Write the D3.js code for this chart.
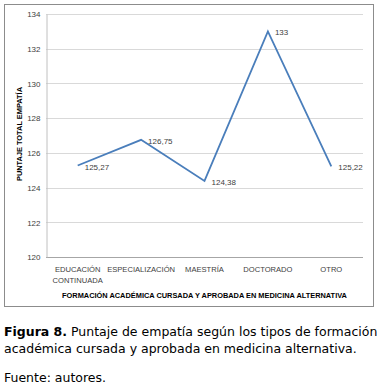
<!DOCTYPE html>
<html>
<head>
<meta charset="utf-8">
<script src="https://cdn.jsdelivr.net/npm/d3@7"></script>
<style>
  body { margin: 0; background: #fff; }
  #chart { position: absolute; left: 0; top: 0; }
  .caption { position: absolute; left: 4px; font-family: "DejaVu Sans", Verdana, sans-serif; font-size: 12.5px; color: #000; line-height: 17px; white-space: nowrap; }
  .tick text { font-family: "Liberation Sans", Arial, sans-serif; fill: #404040; }
</style>
</head>
<body>
<div id="chart"></div>
<div class="caption" style="top:323px"><b>Figura 8.</b> Puntaje de empatía según los tipos de formación<br>académica cursada y aprobada en medicina alternativa.</div>
<div class="caption" style="top:369px">Fuente: autores.</div>
<script>
var categories = [["EDUCACIÓN", "CONTINUADA"], ["ESPECIALIZACIÓN"], ["MAESTRÍA"], ["DOCTORADO"], ["OTRO"]];
var values = [125.27, 126.75, 124.38, 133, 125.22];
var valueLabels = ["125,27", "126,75", "124,38", "133", "125,22"];
var yTicks = [120, 122, 124, 126, 128, 130, 132, 134];

function init() {
    var w = 380;
    var h = 320;
    var left = 46, right = 363, top = 14, bottom = 257;

    var svg = d3.select("#chart")
        .append("svg")
        .attr("width", w)
        .attr("height", h);

    // outer frame
    svg.append("rect")
        .attr("x", 4.5).attr("y", 4.5)
        .attr("width", 369).attr("height", 302)
        .attr("fill", "none")
        .attr("stroke", "#8c8c8c");

    var keys = categories.map(function (d, i) { return i; });

    var xScale = d3.scaleBand()
        .domain(keys)
        .range([left, right]);

    var yScale = d3.scaleLinear()
        .domain([120, 134])
        .range([bottom, top]);

    // gridlines
    svg.append("g").selectAll("line")
        .data(yTicks)
        .enter().append("line")
        .attr("x1", left).attr("x2", right)
        .attr("y1", function (d) { return Math.round(yScale(d)) + 0.5; })
        .attr("y2", function (d) { return Math.round(yScale(d)) + 0.5; })
        .style("stroke", function (d) { return d === 120 ? "#a6a6a6" : "#d9d9d9"; });

    var yAxis = d3.axisLeft(yScale).tickValues(yTicks).tickSize(0).tickPadding(6);
    var gy = svg.append("g")
        .attr("transform", "translate(" + (left + 0.5) + ",0)")
        .call(yAxis);
    gy.select(".domain").style("stroke", "#c0c0c0");
    gy.selectAll(".tick text").style("font-size", "8px").attr("dy", "0.35em");

    var xAxis = d3.axisBottom(xScale).tickSize(0).tickFormat("");
    var gx = svg.append("g")
        .attr("transform", "translate(0," + (bottom + 0.5) + ")")
        .call(xAxis);
    gx.select(".domain").remove();

    gx.selectAll(".tick").each(function (d) {
        var t = d3.select(this).append("text")
            .attr("text-anchor", "middle")
            .attr("fill", "#404040")
            .style("font-family", "Liberation Sans, Arial, sans-serif")
            .style("font-size", "7.6px");
        categories[d].forEach(function (s, j) {
            t.append("tspan").attr("x", 0).attr("y", 14 + j * 11).text(s);
        });
    });

    var line = d3.line()
        .x(function (d, i) { return xScale(i) + xScale.bandwidth() / 2; })
        .y(function (d) { return yScale(d); });

    svg.append("path")
        .datum(values)
        .attr("d", line)
        .attr("fill", "none")
        .attr("stroke", "#4a7ebb")
        .attr("stroke-width", 1.8)
        .attr("stroke-linejoin", "miter");

    svg.append("g").selectAll("text")
        .data(values)
        .enter().append("text")
        .attr("x", function (d, i) { return xScale(i) + xScale.bandwidth() / 2 + 7; })
        .attr("y", function (d) { return yScale(d) + 4; })
        .attr("fill", "#404040")
        .style("font-family", "Liberation Sans, Arial, sans-serif")
        .style("font-size", "8px")
        .text(function (d, i) { return valueLabels[i]; });

    // axis titles
    svg.append("text")
        .attr("x", (left + right) / 2)
        .attr("y", 298)
        .attr("text-anchor", "middle")
        .style("font-family", "Liberation Sans, Arial, sans-serif")
        .style("font-size", "7.4px")
        .style("font-weight", "bold")
        .text("FORMACIÓN ACADÉMICA CURSADA Y APROBADA EN MEDICINA ALTERNATIVA");

    svg.append("text")
        .attr("transform", "translate(22," + 134 + ") rotate(-90)")
        .attr("text-anchor", "middle")
        .style("font-family", "Liberation Sans, Arial, sans-serif")
        .style("font-size", "7.4px")
        .style("font-weight", "bold")
        .text("PUNTAJE TOTAL EMPATÍA");
}

window.onload = init;
</script>
</body>
</html>
